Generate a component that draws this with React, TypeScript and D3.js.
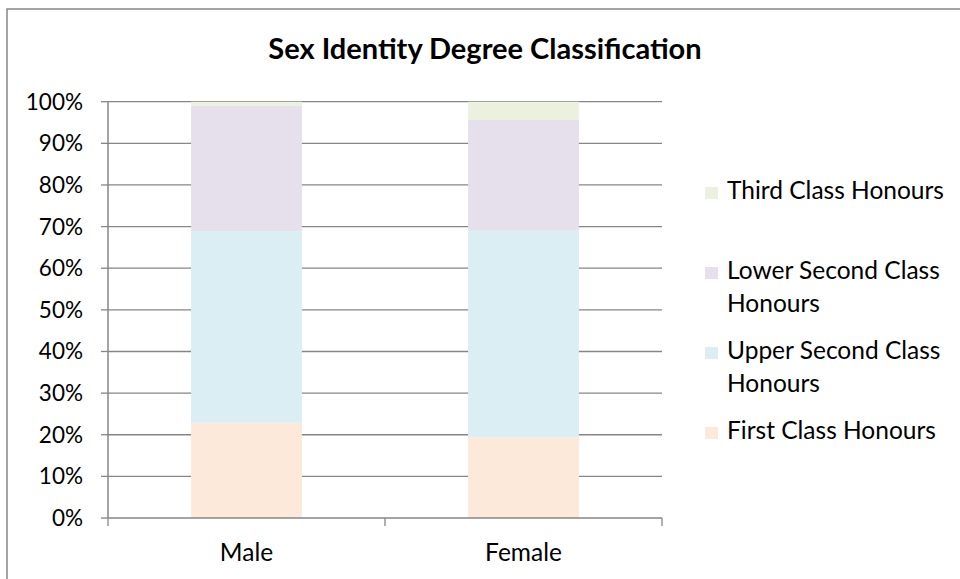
import React from "react";
import * as d3 from "d3";

const categories = ["Male", "Female"];
const seriesNames = [
  "First Class Honours",
  "Upper Second Class Honours",
  "Lower Second Class Honours",
  "Third Class Honours",
];
const firstClass = [22.9, 19.4];
const upperSecond = [46.0, 49.6];
const lowerSecond = [30.1, 26.6];
const thirdClass = [1.0, 4.4];
const seriesColors = ["#FDE9D9", "#DAEEF3", "#E5E0EC", "#EBF1DE"];
const yTicks = [0, 10, 20, 30, 40, 50, 60, 70, 80, 90, 100];
const legendLines: string[][] = [
  ["Third Class Honours"],
  ["Lower Second Class", "Honours"],
  ["Upper Second Class", "Honours"],
  ["First Class Honours"],
];

const FONT = "Lato, 'Open Sans', sans-serif";
const GRID = "#868686";

export default function App() {
  const W = 960, H = 579;
  const left = 108, right = 662, top = 101.7, bottom = 518;
  const x = d3.scaleBand<string>().domain(categories).range([left, right]).padding(0);
  const y = d3.scaleLinear().domain([0, 100]).range([bottom, top]);
  const barW = x.step() * 0.4;

  const rows = categories.map((c, i) => ({
    cat: c,
    first: firstClass[i],
    upper: upperSecond[i],
    lower: lowerSecond[i],
    third: thirdClass[i],
  }));
  const keys = ["first", "upper", "lower", "third"];
  const stacked = d3.stack<any>().keys(keys)(rows);

  const legendOrder = [3, 2, 1, 0];
  const legendBaselines = [[199], [279, 312], [359, 392], [439]];

  return (
    <svg width={W} height={H} style={{ position: "absolute", left: 0, top: 0, background: "#fff" }}>
      <rect x={7} y={9} width={1200} height={1200} fill="#fff" stroke={GRID} strokeWidth={1.5} />
      <text x={485} y={59} textAnchor="middle" fontFamily={FONT} fontWeight="bold" fontSize={29} fill="#000">
        Sex Identity Degree Classification
      </text>
      {yTicks.map((t) => (
        <g key={t}>
          {t > 0 && <line x1={left} x2={right} y1={y(t)} y2={y(t)} stroke={GRID} strokeWidth={1.3} />}
          <line x1={left - 7} x2={left} y1={y(t)} y2={y(t)} stroke={GRID} strokeWidth={1.3} />
          <text x={83} y={y(t) + 8} textAnchor="end" fontFamily={FONT} fontSize={22.5} fill="#000">
            {t}%
          </text>
        </g>
      ))}
      {stacked.map((s, si) => (
        <g key={s.key} fill={seriesColors[si]}>
          {s.map((d, i) => (
            <rect
              key={i}
              x={(x(categories[i]) as number) + (x.step() - barW) / 2}
              y={y(d[1])}
              width={barW}
              height={y(d[0]) - y(d[1])}
            />
          ))}
        </g>
      ))}
      <line x1={left} x2={left} y1={top} y2={bottom} stroke={GRID} strokeWidth={1.5} />
      <line x1={left} x2={right} y1={bottom} y2={bottom} stroke={GRID} strokeWidth={1.5} />
      {[left, ...categories.map((c) => (x(c) as number) + x.step())].map((tx, i) => (
        <line key={i} x1={tx} x2={tx} y1={bottom} y2={bottom + 8} stroke={GRID} strokeWidth={1.3} />
      ))}
      {categories.map((c) => (
        <text key={c} x={(x(c) as number) + x.step() / 2} y={561} textAnchor="middle" fontFamily={FONT} fontSize={24.5} fill="#000">
          {c}
        </text>
      ))}
      {legendOrder.map((si, li) => (
        <g key={si}>
          <rect x={705} y={legendBaselines[li][0] - 12} width={13} height={12} fill={seriesColors[si]} />
          {legendLines[li].map((ln, k) => (
            <text key={k} x={727} y={legendBaselines[li][k]} fontFamily={FONT} fontSize={24.5} fill="#000">
              {ln}
            </text>
          ))}
        </g>
      ))}
    </svg>
  );
}
